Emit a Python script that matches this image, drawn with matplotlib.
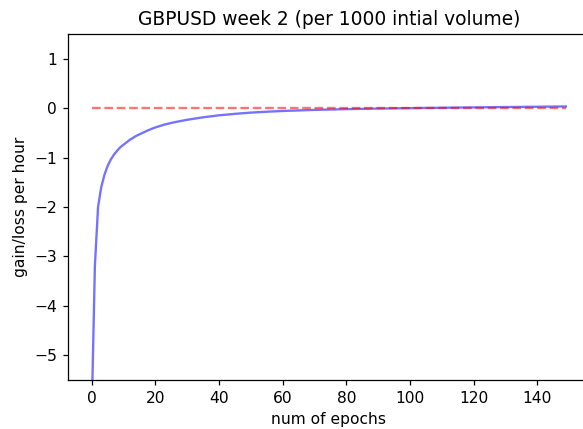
import matplotlib
matplotlib.use("Agg")
import matplotlib.pyplot as plt

epochs = [0, 1, 2, 3, 4, 5, 6, 7, 8, 9, 10, 12, 14, 16, 18, 20, 23, 26, 30, 35, 40, 45,
          50, 55, 60, 70, 80, 90, 100, 115, 130, 149]
gain = [-6.2, -3.2, -2.0, -1.6, -1.35, -1.17, -1.04, -0.94, -0.86, -0.79, -0.74, -0.64,
        -0.56, -0.50, -0.44, -0.39, -0.33, -0.285, -0.235, -0.185, -0.145, -0.115,
        -0.09, -0.072, -0.057, -0.035, -0.02, -0.008, 0.0, 0.012, 0.022, 0.035]
baseline_x = [0, 149]
baseline_y = [0, 0]

fig = plt.figure(figsize=(583 / 112, 429 / 112), dpi=112)
ax = fig.add_axes([0.1166, 0.1142, 0.8947, 0.8065])
ax.plot(epochs, gain, color='b', alpha=0.55)
ax.plot(baseline_x, baseline_y, 'r--', alpha=0.55)
ax.set_xlim(-7.45, 156.45)
ax.set_ylim(-5.5, 1.5)
ax.set_title("GBPUSD week 2 (per 1000 intial volume)")
ax.set_xlabel("num of epochs")
ax.set_ylabel("gain/loss per hour")
fig.savefig("out.png", dpi=112)
